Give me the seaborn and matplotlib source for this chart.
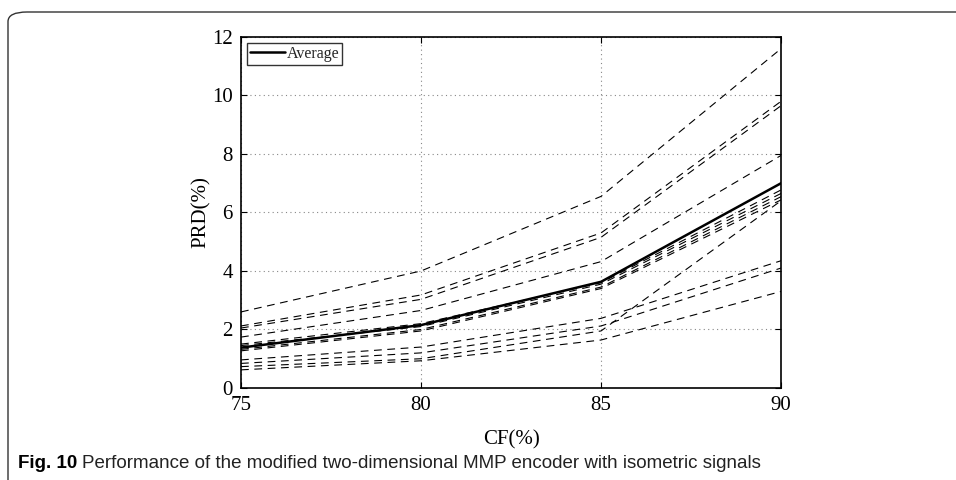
import matplotlib
matplotlib.use("Agg")
import matplotlib.pyplot as plt
from matplotlib.patches import FancyBboxPatch
import seaborn as sns
import pandas as pd

# Compression factor (%) on the x axis
cf = [75, 80, 85, 90]

# PRD (%) of each isometric signal
sig_01 = [2.60, 4.00, 6.55, 11.60]
sig_02 = [2.12, 3.18, 5.30, 9.80]
sig_03 = [2.05, 3.03, 5.15, 9.65]
sig_04 = [1.74, 2.65, 4.32, 7.95]
sig_05 = [1.50, 2.20, 3.60, 6.77]
sig_06 = [1.45, 2.10, 3.55, 6.65]
sig_07 = [1.32, 2.00, 3.45, 6.54]
sig_08 = [1.27, 1.95, 3.40, 6.43]
sig_09 = [0.96, 1.40, 2.38, 4.35]
sig_10 = [0.84, 1.20, 2.12, 4.10]
sig_11 = [0.73, 1.00, 1.95, 6.40]
sig_12 = [0.62, 0.93, 1.64, 3.30]
signals = [sig_01, sig_02, sig_03, sig_04, sig_05, sig_06,
           sig_07, sig_08, sig_09, sig_10, sig_11, sig_12]

# Average PRD (%)
average = [1.38, 2.15, 3.63, 7.00]

y_ticks = [0, 2, 4, 6, 8, 10, 12]
x_ticks = [75, 80, 85, 90]

sns.set_theme(style="white")
plt.rcParams["font.family"] = ["Liberation Serif", "DejaVu Serif"]

fig = plt.figure(figsize=(9.56, 4.8), dpi=100)
ax = fig.add_axes([0.2521, 0.1917, 0.5649, 0.7313])

rows = []
for i, s in enumerate(signals):
    for x, y in zip(cf, s):
        rows.append({"CF": x, "PRD": y, "signal": f"s{i + 1}"})
df = pd.DataFrame(rows)

for name, grp in df.groupby("signal"):
    sns.lineplot(data=grp, x="CF", y="PRD", ax=ax, color="black",
                 linewidth=0.8, linestyle=(0, (7, 5)), legend=False)

sns.lineplot(x=cf, y=average, ax=ax, color="black", linewidth=1.8,
             label="Average")

ax.set_xlim(75, 90)
ax.set_ylim(0, 12)
ax.set_xticks(x_ticks)
ax.set_yticks(y_ticks)
ax.set_xticklabels([str(t) for t in x_ticks])
ax.set_yticklabels([str(t) for t in y_ticks])
ax.tick_params(direction="in", length=4, width=0.8, colors="black",
               labelsize=15, top=True, right=True, bottom=True, left=True,
               pad=6)
ax.grid(True, color="#888888", linestyle=(0, (1, 3)), linewidth=0.8)
for sp in ax.spines.values():
    sp.set_color("black")
    sp.set_linewidth(1.2)

ax.set_xlabel("CF(%)", fontsize=15, color="black", labelpad=11)
ax.set_ylabel("PRD(%)", fontsize=15, color="black", labelpad=1)

leg = ax.legend(loc="upper left", fontsize=11.5, frameon=True, fancybox=False,
                borderpad=0.2, handlelength=2.2, handletextpad=0.1,
                borderaxespad=0.35)
leg.get_frame().set_edgecolor("black")
leg.get_frame().set_linewidth(1.0)

# Rounded panel frame around the figure
frame = FancyBboxPatch((8 / 956, -0.2), 1.2, 1.2 - 12 / 480,
                       boxstyle="round,pad=0,rounding_size=0.02",
                       transform=fig.transFigure, fill=False,
                       edgecolor="#333333", linewidth=1.0, clip_on=False)
fig.patches.append(frame)

# Caption
cap_fam = ["Liberation Sans Narrow", "Liberation Sans", "DejaVu Sans"]
fig.text(18 / 956, 1 - 463 / 480, "Fig. 10", fontsize=13.5, fontweight="bold",
         family=cap_fam, va="center", ha="left", color="black")
fig.text(82 / 956, 1 - 463 / 480,
         "Performance of the modified two-dimensional MMP encoder with isometric signals",
         fontsize=13.5, family=cap_fam, va="center", ha="left", color="#222222")

fig.savefig("out.png", dpi=100)
